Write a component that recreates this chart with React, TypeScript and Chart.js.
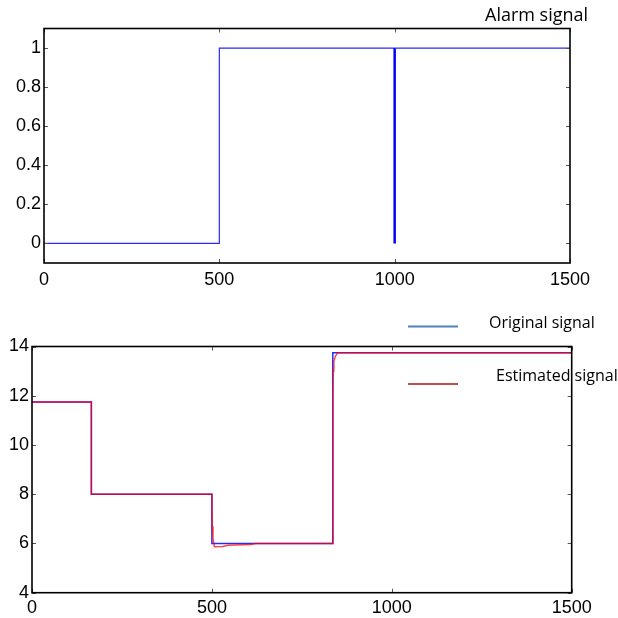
import React, { useEffect, useRef } from "react";
import { Chart, registerables } from "chart.js";

Chart.register(...registerables);

// ---- data ----
const xTicks = [0, 500, 1000, 1500];
const alarmTicks = [0, 0.2, 0.4, 0.6, 0.8, 1];
const signalTicks = [4, 6, 8, 10, 12, 14];

const alarmX = [0, 500, 500, 1000, 1000, 1000, 1500];
const alarmY = [0, 0, 1, 1, 0, 1, 1];

const originalX = [0, 165, 165, 500, 500, 836, 836, 1500];
const originalY = [11.75, 11.75, 8, 8, 6, 6, 13.75, 13.75];

const estimatedX = [0, 165, 165, 500, 501, 503, 507, 530, 545, 610, 620, 836, 836.5, 837, 839, 843, 850, 1500];
const estimatedY = [11.75, 11.75, 8, 8, 6.7, 6.2, 5.87, 5.88, 5.93, 5.96, 6, 6, 12.2, 13.0, 13.4, 13.6, 13.75, 13.75];

const alarmTitle = "Alarm signal";
const originalLabel = "Original signal";
const estimatedLabel = "Estimated signal";

// ---- styles ----
const TICK_FONT = {
  family: "'Liberation Sans Narrow', 'Arial Narrow', 'Liberation Sans', Arial, sans-serif",
  size: 18,
};
const TEXT_FONT = "16px 'Open Sans', sans-serif";
const TITLE_FONT = "18px 'Open Sans', sans-serif";

const zip = (xs: number[], ys: number[]) => xs.map((x, i) => ({ x, y: ys[i] }));

const framePlugin = {
  id: "frame",
  afterDatasetsDraw(chart: any) {
    const { ctx, chartArea: a, scales } = chart;
    ctx.save();
    ctx.strokeStyle = "#555";
    ctx.lineWidth = 1;
    const L = 4;
    ctx.beginPath();
    scales.x.ticks.forEach((t: any) => {
      const px = Math.round(scales.x.getPixelForValue(t.value)) + 0.5;
      ctx.moveTo(px, a.bottom);
      ctx.lineTo(px, a.bottom - L);
      ctx.moveTo(px, a.top);
      ctx.lineTo(px, a.top + L);
    });
    scales.y.ticks.forEach((t: any) => {
      const py = Math.round(scales.y.getPixelForValue(t.value)) + 0.5;
      ctx.moveTo(a.left, py);
      ctx.lineTo(a.left + L, py);
      ctx.moveTo(a.right, py);
      ctx.lineTo(a.right - L, py);
    });
    ctx.stroke();
    ctx.strokeStyle = "#000";
    ctx.lineWidth = 1.6;
    ctx.strokeRect(a.left, a.top, a.right - a.left, a.bottom - a.top);
    ctx.restore();
  },
};

function makeScales(yMin: number, yMax: number, yTicks: number[], yWidth: number, xHeight: number, xPad: number, yPad: number) {
  return {
    x: {
      type: "linear",
      min: 0,
      max: 1500,
      afterBuildTicks: (s: any) => {
        s.ticks = xTicks.map((v) => ({ value: v }));
      },
      afterFit: (s: any) => {
        s.height = xHeight;
      },
      grid: { display: false, drawTicks: false },
      border: { display: false },
      ticks: {
        font: TICK_FONT,
        color: "#000",
        padding: xPad,
        maxRotation: 0,
        autoSkip: false,
        callback: (v: any) => String(v),
      },
    },
    y: {
      type: "linear",
      min: yMin,
      max: yMax,
      afterBuildTicks: (s: any) => {
        s.ticks = yTicks.map((v) => ({ value: v }));
      },
      afterFit: (s: any) => {
        s.width = yWidth;
      },
      grid: { display: false, drawTicks: false },
      border: { display: false },
      ticks: { font: TICK_FONT, color: "#000", padding: yPad, autoSkip: false, callback: (v: any) => String(v) },
    },
  };
}

export default function App() {
  const topRef = useRef<HTMLCanvasElement>(null);
  const botRef = useRef<HTMLCanvasElement>(null);

  useEffect(() => {
    const titlePlugin = {
      id: "alarmTitle",
      afterDraw(chart: any) {
        const ctx = chart.ctx;
        ctx.save();
        ctx.font = TITLE_FONT;
        ctx.fillStyle = "#000";
        ctx.textAlign = "left";
        ctx.textBaseline = "alphabetic";
        ctx.fillText(alarmTitle, 485, 21);
        ctx.restore();
      },
    };

    const top = new Chart(topRef.current!, {
      type: "line",
      data: {
        datasets: [
          {
            label: alarmTitle,
            data: zip(alarmX, alarmY),
            borderColor: "#2a2aff",
            borderWidth: 1.2,
            pointRadius: 0,
            tension: 0,
            segment: {
              borderWidth: (c: any) => (c.p0.parsed.x === 1000 && c.p1.parsed.x === 1000 ? 2.5 : 1.2),
              borderColor: (c: any) => (c.p0.parsed.x === 1000 && c.p1.parsed.x === 1000 ? "#0000ff" : "#2a2aff"),
            },
          },
        ],
      },
      options: {
        responsive: false,
        animation: false,
        layout: { padding: { left: 0, right: 48, top: 28.5, bottom: 0 } },
        plugins: { legend: { display: false }, tooltip: { enabled: false } },
        scales: makeScales(-0.1, 1.1, alarmTicks, 44, 37, 6, 3) as any,
      },
      plugins: [framePlugin, titlePlugin],
    } as any);

    const legendPlugin = {
      id: "sigLegend",
      afterDraw(chart: any) {
        const ctx = chart.ctx;
        ctx.save();
        ctx.lineWidth = 2;
        ctx.strokeStyle = "#4f81bd";
        ctx.beginPath();
        ctx.moveTo(408, 26.5);
        ctx.lineTo(458, 26.5);
        ctx.stroke();
        ctx.strokeStyle = "#c0504d";
        ctx.beginPath();
        ctx.moveTo(408, 84);
        ctx.lineTo(458, 84);
        ctx.stroke();
        ctx.font = TEXT_FONT;
        ctx.fillStyle = "#000";
        ctx.textAlign = "left";
        ctx.textBaseline = "alphabetic";
        ctx.fillText(originalLabel, 489, 28);
        ctx.fillText(estimatedLabel, 496, 81);
        ctx.restore();
      },
    };

    const bot = new Chart(botRef.current!, {
      type: "line",
      data: {
        datasets: [
          {
            label: originalLabel,
            data: zip(originalX, originalY),
            borderColor: "#2a2aff",
            borderWidth: 1.5,
            pointRadius: 0,
            tension: 0,
            order: 2,
          },
          {
            label: estimatedLabel,
            data: zip(estimatedX, estimatedY),
            borderColor: "rgba(255,0,0,0.72)",
            borderWidth: 1.5,
            pointRadius: 0,
            tension: 0,
            order: 1,
          },
        ],
      },
      options: {
        responsive: false,
        animation: false,
        layout: { padding: { left: 0, right: 46.3, top: 46.5, bottom: 0 } },
        plugins: { legend: { display: false }, tooltip: { enabled: false } },
        scales: makeScales(4, 14, signalTicks, 32, 25.3, 5, 3) as any,
      },
      plugins: [framePlugin, legendPlugin],
    } as any);

    return () => {
      top.destroy();
      bot.destroy();
    };
  }, []);

  return (
    <div style={{ position: "absolute", left: 0, top: 0, width: 618, height: 618, background: "#fff" }}>
      <canvas
        ref={topRef}
        width={618}
        height={300}
        style={{ position: "absolute", left: 0, top: 0, width: 618, height: 300, display: "block" }}
      />
      <canvas
        ref={botRef}
        width={618}
        height={318}
        style={{ position: "absolute", left: 0, top: 300, width: 618, height: 318, display: "block" }}
      />
    </div>
  );
}
